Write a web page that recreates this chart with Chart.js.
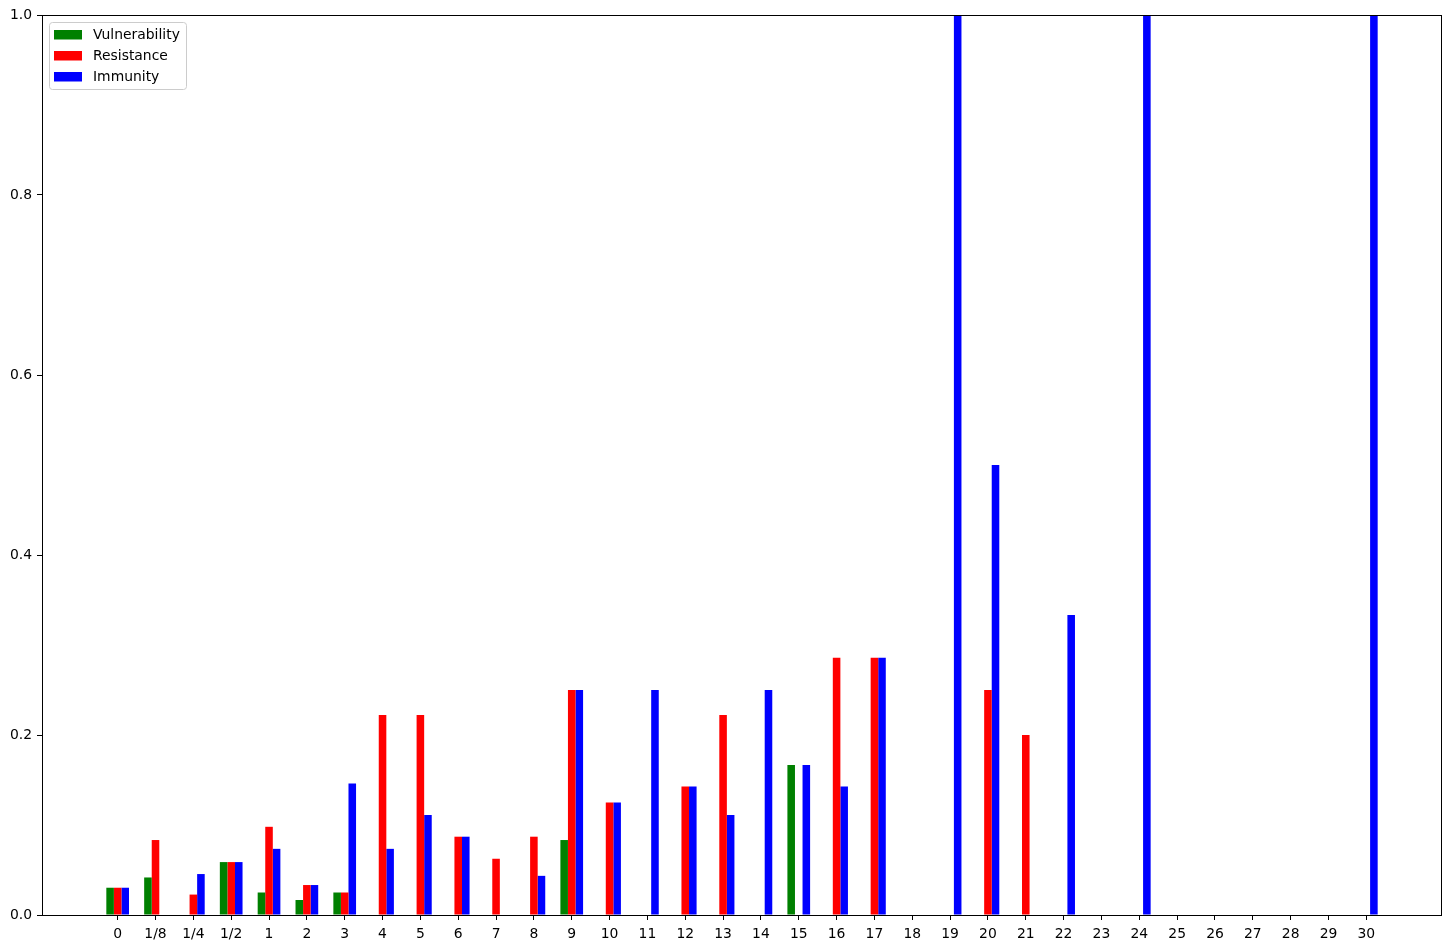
<!DOCTYPE html>
<html>
<head>
<meta charset="utf-8">
<script src="https://cdn.jsdelivr.net/npm/chart.js@4/dist/chart.umd.min.js"></script>
<style>
  html, body { margin: 0; padding: 0; background: #fff; }
  canvas { display: block; }
</style>
</head>
<body>
<canvas id="chart" width="1451" height="949"></canvas>
<script>
// --- Data ---
const x_labels = ['0', '1/8', '1/4', '1/2', '1', '2', '3', '4', '5', '6', '7', '8', '9', '10', '11', '12',
  '13', '14', '15', '16', '17', '18', '19', '20', '21', '22', '23', '24', '25', '26', '27', '28', '29', '30'];

const vulnerability = [0.0303, 0.0417, 0, 0.0588, 0.025, 0.0167, 0.025, 0, 0, 0, 0, 0, 0.0833, 0, 0, 0,
  0, 0, 0.1667, 0, 0, 0, 0, 0, 0, 0, 0, 0, 0, 0, 0, 0, 0, 0];
const resistance = [0.0303, 0.0833, 0.0227, 0.0588, 0.098, 0.0333, 0.025, 0.2222, 0.2222, 0.087, 0.0625, 0.087, 0.25, 0.125, 0, 0.1429,
  0.2222, 0, 0, 0.2857, 0.2857, 0, 0, 0.25, 0.2, 0, 0, 0, 0, 0, 0, 0, 0, 0];
const immunity = [0.0303, 0, 0.0455, 0.0588, 0.0735, 0.0333, 0.146, 0.0735, 0.1111, 0.087, 0, 0.0435, 0.25, 0.125, 0.25, 0.1429,
  0.1111, 0.25, 0.1667, 0.1429, 0.2857, 0, 1, 0.5, 0, 0.3333, 0, 1, 0, 0, 0, 0, 0, 1];

const series_names = ['Vulnerability', 'Resistance', 'Immunity'];
const series_colors = ['#008000', '#ff0000', '#0000ff'];

const FONT = '"DejaVu Sans", sans-serif';
const FONT_SIZE = 13.9;

function to_points(arr) { return arr.map((v, i) => ({ x: i, y: v })); }

// --- Plugins: frame + matplotlib-ish legend ---
const frame_plugin = {
  id: 'frame',
  afterDraw(chart) {
    const { ctx, chartArea: a } = chart;
    ctx.save();
    ctx.strokeStyle = '#000';
    ctx.lineWidth = 1;
    ctx.strokeRect(Math.round(a.left) + 0.5, Math.round(a.top) + 0.5,
      Math.round(a.right - a.left) - 1, Math.round(a.bottom - a.top));
    ctx.restore();
  }
};

const legend_plugin = {
  id: 'mplLegend',
  afterDraw(chart) {
    const { ctx, chartArea: a } = chart;
    const x = a.left + 7, y = a.top + 7, w = 137, h = 67;
    ctx.save();
    ctx.beginPath();
    ctx.roundRect(x + 0.5, y + 0.5, w, h, 3);
    ctx.fillStyle = 'rgba(255,255,255,0.8)';
    ctx.fill();
    ctx.strokeStyle = '#cccccc';
    ctx.lineWidth = 1;
    ctx.stroke();
    ctx.font = FONT_SIZE + 'px ' + FONT;
    ctx.textBaseline = 'middle';
    chart.data.datasets.forEach((ds, i) => {
      const cy = y + 13 + i * 21;
      ctx.fillStyle = ds.backgroundColor;
      ctx.fillRect(x + 5, cy - 5, 28, 9.5);
      ctx.fillStyle = '#000';
      ctx.fillText(ds.label, x + 44, cy);
    });
    ctx.restore();
  }
};

// --- Chart ---
const datasets = [vulnerability, resistance, immunity].map((arr, i) => ({
  label: series_names[i],
  data: to_points(arr),
  backgroundColor: series_colors[i],
  borderWidth: 0,
  categoryPercentage: 0.6,
  barPercentage: 1.0
}));

new Chart(document.getElementById('chart'), {
  type: 'bar',
  data: { datasets },
  options: {
    responsive: false,
    animation: false,
    layout: { padding: { top: 15, right: 9, left: 0, bottom: 0 } },
    plugins: { legend: { display: false }, tooltip: { enabled: false } },
    scales: {
      x: {
        type: 'linear',
        min: -2,
        max: 35,
        offset: false,
        afterBuildTicks: s => { s.ticks = x_labels.map((_, i) => ({ value: i })); },
        afterFit: s => { s.height = 34; },
        grid: { offset: false, drawOnChartArea: false, tickLength: 5, tickColor: '#000' },
        border: { display: false },
        ticks: {
          autoSkip: false, maxRotation: 0, padding: 6,
          color: '#000', font: { family: FONT, size: FONT_SIZE },
          callback: v => x_labels[v]
        }
      },
      y: {
        min: 0,
        max: 1,
        afterFit: s => { s.width = 42; },
        grid: { drawOnChartArea: false, tickLength: 5, tickColor: '#000' },
        border: { display: false },
        ticks: {
          stepSize: 0.2, padding: 5,
          color: '#000', font: { family: FONT, size: FONT_SIZE },
          callback: v => v.toFixed(1)
        }
      }
    }
  },
  plugins: [frame_plugin, legend_plugin]
});
</script>
</body>
</html>
